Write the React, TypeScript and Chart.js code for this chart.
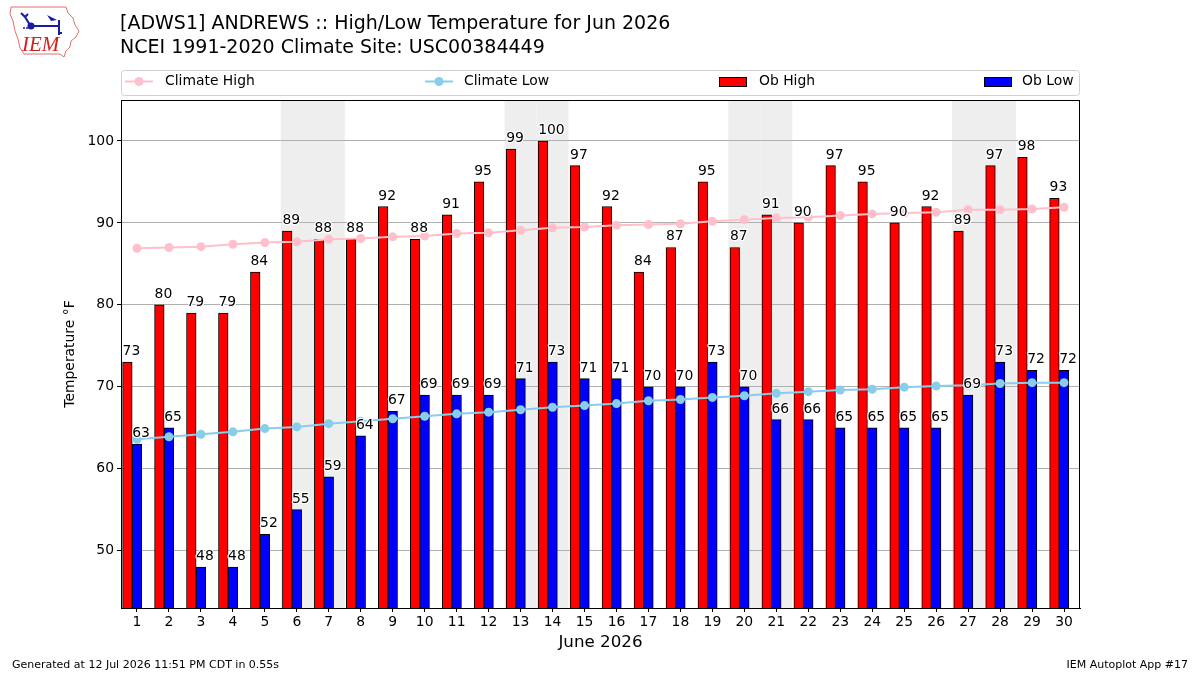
import React, { useEffect, useRef } from 'react';
import { Chart, registerables } from 'chart.js';

Chart.register(...registerables);

// ---------------- data ----------------
const days = [1, 2, 3, 4, 5, 6, 7, 8, 9, 10, 11, 12, 13, 14, 15, 16, 17, 18, 19, 20, 21, 22, 23, 24, 25, 26, 27, 28, 29, 30];
const obHigh = [73, 80, 79, 79, 84, 89, 88, 88, 92, 88, 91, 95, 99, 100, 97, 92, 84, 87, 95, 87, 91, 90, 97, 95, 90, 92, 89, 97, 98, 93];
const obLow = [63, 65, 48, 48, 52, 55, 59, 64, 67, 69, 69, 69, 71, 73, 71, 71, 70, 70, 73, 70, 66, 66, 65, 65, 65, 65, 69, 73, 72, 72];
const climHigh = [86.9, 87.0, 87.1, 87.4, 87.6, 87.7, 88.0, 88.1, 88.3, 88.4, 88.7, 88.8, 89.1, 89.4, 89.5, 89.7, 89.8, 89.9, 90.2, 90.4, 90.6, 90.7, 90.9, 91.1, 91.2, 91.3, 91.6, 91.6, 91.7, 91.9];
const climLow = [63.6, 63.9, 64.2, 64.5, 64.9, 65.1, 65.5, 65.8, 66.1, 66.4, 66.7, 66.9, 67.2, 67.5, 67.7, 67.95, 68.3, 68.45, 68.7, 68.9, 69.2, 69.4, 69.6, 69.7, 69.95, 70.1, 70.2, 70.4, 70.5, 70.5];
const weekendDays = [6, 7, 13, 14, 20, 21, 27, 28];
const yTicks = [50, 60, 70, 80, 90, 100];
const yMin = 43;
const yMax = 105;

const titleLine1 = '[ADWS1] ANDREWS :: High/Low Temperature for Jun 2026';
const titleLine2 = 'NCEI 1991-2020 Climate Site: USC00384449';
const xTitle = 'June 2026';
const yTitle = 'Temperature °F';
const footerLeft = 'Generated at 12 Jul 2026 11:51 PM CDT in 0.55s';
const footerRight = 'IEM Autoplot App #17';
const legendLabels = ['Climate High', 'Climate Low', 'Ob High', 'Ob Low'];

const FONT = "'DejaVu Sans', sans-serif";
const PINK = '#ffc0cb';
const SKY = '#87ceeb';
const RED = '#ff0000';
const BLUE = '#0000ff';

function drawLogo(ctx: CanvasRenderingContext2D) {
  ctx.save();
  // Iowa outline
  ctx.strokeStyle = '#e07070';
  ctx.lineWidth = 1;
  ctx.beginPath();
  ctx.moveTo(11, 7);
  ctx.lineTo(66, 7);
  ctx.lineTo(68, 13);
  ctx.lineTo(73, 18);
  ctx.lineTo(75, 25);
  ctx.lineTo(79, 31);
  ctx.lineTo(76, 37);
  ctx.lineTo(71, 41);
  ctx.lineTo(70, 47);
  ctx.lineTo(66, 51);
  ctx.lineTo(64, 57);
  ctx.lineTo(60, 54);
  ctx.lineTo(24, 54);
  ctx.lineTo(20, 48);
  ctx.lineTo(18, 39);
  ctx.lineTo(15, 31);
  ctx.lineTo(13, 21);
  ctx.lineTo(10, 14);
  ctx.closePath();
  ctx.stroke();
  // station symbol
  ctx.strokeStyle = '#1a1aa8';
  ctx.fillStyle = '#1a1aa8';
  ctx.lineWidth = 2;
  ctx.beginPath();
  ctx.moveTo(31, 26);
  ctx.lineTo(59, 26);
  ctx.moveTo(30, 25);
  ctx.lineTo(25, 17);
  ctx.lineTo(21, 13);
  ctx.moveTo(25, 17);
  ctx.lineTo(28, 14);
  ctx.moveTo(59, 20);
  ctx.lineTo(59, 35);
  ctx.moveTo(59, 33);
  ctx.lineTo(62, 33);
  ctx.stroke();
  ctx.beginPath();
  ctx.arc(31, 26, 3.5, 0, Math.PI * 2);
  ctx.fill();
  ctx.beginPath();
  ctx.moveTo(47, 15);
  ctx.lineTo(57, 20);
  ctx.lineTo(51, 21);
  ctx.closePath();
  ctx.fill();
  ctx.beginPath();
  ctx.arc(24, 28, 1, 0, Math.PI * 2);
  ctx.arc(27, 28, 1, 0, Math.PI * 2);
  ctx.fill();
  // IEM text
  ctx.fillStyle = '#d42020';
  ctx.font = "italic 21px 'Liberation Serif', serif";
  ctx.textAlign = 'left';
  ctx.textBaseline = 'alphabetic';
  ctx.fillText('IEM', 22, 51);
  ctx.restore();
}

const overlayPlugin = {
  id: 'overlay',
  beforeDraw(chart: any) {
    const { ctx, chartArea, scales } = chart;
    ctx.save();
    ctx.fillStyle = '#ffffff';
    ctx.fillRect(0, 0, chart.width, chart.height);
    // weekend shading
    ctx.fillStyle = '#eeeeee';
    const x = scales.x;
    for (const d of weekendDays) {
      const l = x.getPixelForValue(d - 0.5);
      const r = x.getPixelForValue(d + 0.5);
      ctx.fillRect(l, chartArea.top, r - l, chartArea.bottom - chartArea.top);
    }
    ctx.restore();
  },
  afterDatasetsDraw(chart: any) {
    const { ctx } = chart;
    ctx.save();
    ctx.font = `13.9px ${FONT}`;
    ctx.textAlign = 'left';
    ctx.textBaseline = 'alphabetic';
    ctx.lineJoin = 'round';
    const pairs: [number, number[]][] = [
      [2, obHigh],
      [3, obLow],
    ];
    for (const [di, vals] of pairs) {
      const meta = chart.getDatasetMeta(di);
      meta.data.forEach((el: any, i: number) => {
        const left = el.x - el.width / 2;
        const ty = el.y - 7;
        const txt = String(vals[i]);
        ctx.strokeStyle = '#ffffff';
        ctx.lineWidth = 2.5;
        ctx.strokeText(txt, left, ty);
        ctx.fillStyle = '#000000';
        ctx.fillText(txt, left, ty);
      });
    }
    ctx.restore();
  },
  afterDraw(chart: any) {
    const { ctx, chartArea } = chart;
    ctx.save();
    // frame
    ctx.strokeStyle = '#000000';
    ctx.lineWidth = 1;
    ctx.strokeRect(Math.round(chartArea.left) + 0.5, Math.round(chartArea.top) + 0.5,
      Math.round(chartArea.right - chartArea.left) - 1, Math.round(chartArea.bottom - chartArea.top));

    // titles
    ctx.fillStyle = '#000000';
    ctx.textAlign = 'left';
    ctx.textBaseline = 'middle';
    ctx.font = `19px ${FONT}`;
    ctx.fillText(titleLine1, 120, 24);
    ctx.fillText(titleLine2, 120, 48);

    // legend box
    const lx = 121, ly = 70, lw = 959, lh = 25;
    ctx.beginPath();
    ctx.roundRect(lx + 0.5, ly + 0.5, lw - 1, lh, 3);
    ctx.fillStyle = 'rgba(255,255,255,0.8)';
    ctx.fill();
    ctx.strokeStyle = '#d0d0d0';
    ctx.stroke();
    const cy = 81.5;
    ctx.font = `13.9px ${FONT}`;
    ctx.textBaseline = 'middle';
    const lineItems: [number, number, string, string][] = [
      [125, 165, PINK, legendLabels[0]],
      [425, 464, SKY, legendLabels[1]],
    ];
    for (const [sx, tx, col, lab] of lineItems) {
      ctx.strokeStyle = col;
      ctx.lineWidth = 2;
      ctx.beginPath();
      ctx.moveTo(sx, cy);
      ctx.lineTo(sx + 28, cy);
      ctx.stroke();
      ctx.fillStyle = col;
      ctx.beginPath();
      ctx.arc(sx + 14, cy, 4.5, 0, Math.PI * 2);
      ctx.fill();
      ctx.fillStyle = '#000000';
      ctx.fillText(lab, tx, cy);
    }
    const patchItems: [number, number, string, string][] = [
      [719, 759, RED, legendLabels[2]],
      [984, 1022, BLUE, legendLabels[3]],
    ];
    for (const [sx, tx, col, lab] of patchItems) {
      ctx.fillStyle = col;
      ctx.fillRect(sx, 77, 28, 10);
      ctx.strokeStyle = '#000000';
      ctx.lineWidth = 1;
      ctx.strokeRect(sx + 0.5, 77.5, 27, 9);
      ctx.fillStyle = '#000000';
      ctx.fillText(lab, tx, cy);
    }

    // axis titles
    ctx.textAlign = 'center';
    ctx.font = `16.7px ${FONT}`;
    ctx.fillText(xTitle, (chartArea.left + chartArea.right) / 2, 643);
    ctx.save();
    ctx.translate(70, (chartArea.top + chartArea.bottom) / 2);
    ctx.rotate(-Math.PI / 2);
    ctx.font = `13.9px ${FONT}`;
    ctx.fillText(yTitle, 0, 0);
    ctx.restore();

    // footer
    ctx.font = `11px ${FONT}`;
    ctx.textAlign = 'left';
    ctx.fillText(footerLeft, 12, 665);
    ctx.textAlign = 'right';
    ctx.fillText(footerRight, 1188, 665);

    drawLogo(ctx);
    ctx.restore();
  },
};

export default function App() {
  const ref = useRef<HTMLCanvasElement | null>(null);

  useEffect(() => {
    if (!ref.current) return;
    const tickFont = { family: FONT, size: 13.9 };
    const barStyle = {
      borderColor: '#000000',
      borderWidth: 1,
      borderSkipped: false,
      barThickness: 9.6,
      clip: 0,
      xAxisID: 'xb',
      yAxisID: 'y',
    };
    const chart = new Chart(ref.current, {
      type: 'bar',
      data: {
        datasets: [
          {
            type: 'line',
            label: legendLabels[0],
            data: days.map((d, i) => ({ x: d, y: climHigh[i] })),
            xAxisID: 'x',
            yAxisID: 'y',
            borderColor: PINK,
            backgroundColor: PINK,
            borderWidth: 2,
            pointRadius: 4.5,
            pointBorderWidth: 0,
            pointBackgroundColor: PINK,
            tension: 0,
            clip: false,
          } as any,
          {
            type: 'line',
            label: legendLabels[1],
            data: days.map((d, i) => ({ x: d, y: climLow[i] })),
            xAxisID: 'x',
            yAxisID: 'y',
            borderColor: SKY,
            backgroundColor: SKY,
            borderWidth: 2,
            pointRadius: 4.5,
            pointBorderWidth: 0,
            pointBackgroundColor: SKY,
            tension: 0,
            clip: false,
          } as any,
          {
            type: 'bar',
            label: legendLabels[2],
            data: days.map((d, i) => ({ x: d, y: obHigh[i] })),
            backgroundColor: RED,
            ...barStyle,
          } as any,
          {
            type: 'bar',
            label: legendLabels[3],
            data: days.map((d, i) => ({ x: d, y: obLow[i] })),
            backgroundColor: BLUE,
            ...barStyle,
          } as any,
        ],
      },
      options: {
        responsive: false,
        animation: false,
        devicePixelRatio: 1,
        layout: { padding: { top: 100, right: 120, left: 0, bottom: 0 } },
        plugins: {
          legend: { display: false },
          title: { display: false },
          tooltip: { enabled: false },
        },
        scales: {
          x: {
            type: 'linear',
            position: 'bottom',
            min: 0.5,
            max: 30.5,
            bounds: 'data',
            offset: false,
            afterBuildTicks: (scale: any) => {
              scale.ticks = days.map((d) => ({ value: d }));
            },
            afterFit: (scale: any) => {
              scale.height = 67;
            },
            ticks: {
              autoSkip: false,
              maxRotation: 0,
              color: '#000000',
              font: tickFont,
              padding: 2,
              callback: (v: any) => String(v),
            },
            grid: {
              offset: false,
              drawOnChartArea: false,
              drawTicks: true,
              tickLength: 4,
              tickColor: '#000000',
            },
            border: { display: true, color: '#000000', width: 1 },
          },
          xb: {
            type: 'linear',
            position: 'bottom',
            display: false,
            min: 0.5 + 0.15,
            max: 30.5 + 0.15,
            bounds: 'data',
            offset: false,
            afterBuildTicks: (scale: any) => {
              scale.ticks = days.map((d) => ({ value: d }));
            },
            ticks: { autoSkip: false },
            grid: { offset: false },
          },
          y: {
            type: 'linear',
            position: 'left',
            min: yMin,
            max: yMax,
            bounds: 'data',
            afterBuildTicks: (scale: any) => {
              scale.ticks = yTicks.map((v) => ({ value: v }));
            },
            afterFit: (scale: any) => {
              scale.width = 121;
            },
            ticks: {
              color: '#000000',
              font: tickFont,
              padding: 3,
            },
            grid: {
              color: '#b0b0b0',
              lineWidth: 1,
              drawTicks: true,
              tickLength: 4,
              tickColor: '#000000',
            },
            border: { display: true, color: '#000000', width: 1 },
          },
        },
      } as any,
      plugins: [overlayPlugin],
    });
    return () => chart.destroy();
  }, []);

  return (
    <div style={{ position: 'fixed', left: 0, top: 0, width: 1200, height: 675, background: '#ffffff' }}>
      <canvas ref={ref} width={1200} height={675} style={{ display: 'block', width: 1200, height: 675 }} />
    </div>
  );
}
